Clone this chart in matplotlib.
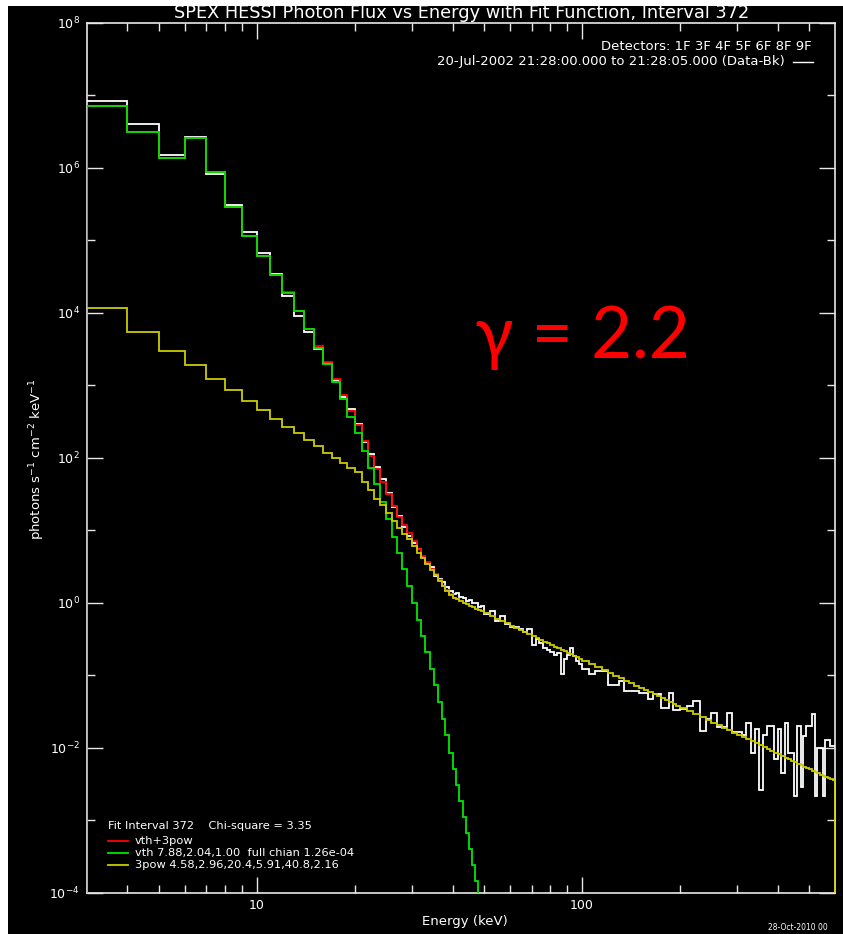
import numpy as np
import matplotlib.pyplot as plt
from matplotlib.lines import Line2D
from matplotlib.patches import Rectangle

W, H = 843, 934

# energy bin edges (keV): 1 keV to 50, then wider bins
energy_edges = (list(range(3, 50)) + list(range(50, 100, 2))
                + list(range(100, 200, 5)) + list(range(200, 601, 10)))

# log10 of photon flux per bin
data_log = [
    6.93, 6.61, 6.18, 6.43, 5.92, 5.49, 5.11, 4.83, 4.54, 4.23,
    3.96, 3.74, 3.50, 3.31, 3.07, 2.84, 2.67, 2.47, 2.22, 2.05,
    1.87, 1.70, 1.52, 1.32, 1.19, 1.04, 0.92, 0.82, 0.74, 0.63,
    0.55, 0.49, 0.37, 0.33, 0.29, 0.22, 0.16, 0.12, 0.13, 0.08,
    0.06, 0.02, 0.04, -0.01, 0.00, -0.06, -0.05,
    # 50-100 keV
    -0.15, -0.12, -0.25, -0.19, -0.30, -0.34, -0.33, -0.37, -0.40, -0.36,
    -0.58, -0.50, -0.55, -0.62, -0.66, -0.68, -0.72, -0.70, -0.99, -0.78,
    -0.72, -0.62, -0.73, -0.80, -0.84,
    # 100-200 keV
    -0.92, -0.98, -0.94, -0.94, -1.13, -1.13, -1.08, -1.22, -1.22, -1.22,
    -1.24, -1.24, -1.33, -1.26, -1.26, -1.45, -1.45, -1.24, -1.48, -1.48,
    # 200-600 keV
    -1.47, -1.43, -1.36, -1.77, -1.60, -1.52, -1.72, -1.72, -1.52, -1.79,
    -1.79, -1.82, -1.66, -2.07, -1.75, -2.58, -1.82, -1.70, -1.70, -2.16,
    -1.75, -2.35, -1.66, -2.07, -2.07, -2.67, -1.70, -2.55, -1.84, -1.70,
    -1.70, -1.54, -2.67, -2.00, -2.00, -2.67, -1.89, -1.89, -1.98, -1.98,
]

# vth+3pow total model, 3-41 keV (above that it sits under the 3pow line)
total_log = [
    6.859, 6.497, 6.133, 6.418, 5.945, 5.462, 5.062, 4.79, 4.52, 4.282,
    4.031, 3.783, 3.536, 3.322, 3.085, 2.86, 2.645, 2.446, 2.225, 2.031,
    1.845, 1.669, 1.498, 1.332, 1.186, 1.073, 0.962, 0.845, 0.739, 0.645,
    0.555, 0.469, 0.39, 0.307, 0.236, 0.172, 0.115, 0.069,
]

# thermal (vth) component, 3-50 keV
thermal_log = [
    6.859, 6.497, 6.133, 6.418, 5.945, 5.462, 5.062, 4.79, 4.519, 4.276,
    4.022, 3.77, 3.517, 3.297, 3.048, 2.804, 2.566, 2.335, 2.087, 1.857,
    1.632, 1.393, 1.149, 0.910, 0.68, 0.459, 0.229, -0.01, -0.24, -0.46,
    -0.68, -0.91, -1.14, -1.37, -1.60, -1.83, -2.07, -2.30, -2.52, -2.74,
    -2.96, -3.18, -3.40, -3.62, -3.84, -4.06, -4.28,
]

# broken power law (3pow) component
pow_log = [
    4.06, 3.73, 3.48, 3.28, 3.08, 2.93, 2.78, 2.66, 2.53, 2.43,
    2.335, 2.243, 2.16, 2.07, 2.00, 1.93, 1.86, 1.80, 1.664, 1.553,
    1.434, 1.342, 1.241, 1.126, 1.025, 0.952, 0.873, 0.781, 0.69, 0.611,
    0.528, 0.45, 0.377, 0.298, 0.23, 0.165, 0.11,
    0.067, 0.044, 0.022, 0.0, -0.022, -0.042, -0.063, -0.083, -0.102, -0.121,
    # 50-100 keV
    -0.149, -0.186, -0.220, -0.254, -0.286, -0.317, -0.348, -0.377, -0.405, -0.433,
    -0.460, -0.486, -0.511, -0.536, -0.560, -0.583, -0.606, -0.629, -0.650, -0.672,
    -0.692, -0.713, -0.733, -0.753, -0.772,
    # 100-200 keV
    -0.804, -0.849, -0.892, -0.932, -0.971, -1.009, -1.045, -1.080, -1.113, -1.146,
    -1.177, -1.207, -1.237, -1.265, -1.292, -1.319, -1.345, -1.371, -1.395, -1.420,
    # 200-600 keV
    -1.455, -1.499, -1.542, -1.583, -1.622, -1.659, -1.695, -1.730, -1.763, -1.796,
    -1.827, -1.857, -1.887, -1.915, -1.943, -1.969, -1.996, -2.021, -2.046, -2.070,
    -2.093, -2.116, -2.138, -2.160, -2.182, -2.202, -2.223, -2.243, -2.262, -2.281,
    -2.300, -2.318, -2.337, -2.354, -2.372, -2.389, -2.405, -2.422, -2.438, -2.454,
]

y_major = [1e-4, 1e-2, 1e0, 1e2, 1e4, 1e6, 1e8]
y_major_labels = ['$10^{-4}$', '$10^{-2}$', '$10^{0}$', '$10^{2}$',
                  '$10^{4}$', '$10^{6}$', '$10^{8}$']
y_minor = [1e-3, 1e-1, 1e1, 1e3, 1e5, 1e7]
x_major = [10, 100]
x_minor = [4, 5, 6, 7, 8, 9, 20, 30, 40, 50, 60, 70, 80, 90, 200, 300, 400, 500]

C_DATA = 'white'
C_TOT = '#ff0000'
C_TH = '#00e600'
C_POW = '#cccc00'


def fx(x):
    return x / W


def fy(y):
    return 1 - y / H


fig = plt.figure(figsize=(W / 100, H / 100), dpi=100, facecolor='white')
fig.add_artist(Rectangle((fx(8), 0), 1 - fx(8), fy(6), transform=fig.transFigure,
                         facecolor='black', edgecolor='none', zorder=-10))

ax = fig.add_axes([fx(86.7), fy(892.5), fx(835 - 86.7), (892.5 - 23) / H])
ax.set_facecolor('black')
ax.set_xscale('log')
ax.set_yscale('log')

edges = np.array(energy_edges, dtype=float)
ax.stairs(10 ** np.array(data_log), edges, color=C_DATA, lw=1.3,
          baseline=None, zorder=3)
ax.stairs(10 ** np.array(total_log), edges[:len(total_log) + 1], color=C_TOT,
          lw=1.3, baseline=None, zorder=4)
ax.stairs(10 ** np.array(thermal_log), edges[:len(thermal_log) + 1], color=C_TH,
          lw=1.3, baseline=1e-6, zorder=5)
ax.stairs(10 ** np.array(pow_log), edges, color=C_POW, lw=1.3,
          baseline=1e-6, zorder=6)

ax.set_xlim(3, 600)
ax.set_ylim(1e-4, 1e8)

ax.set_yticks(y_major, labels=y_major_labels)
ax.set_yticks(y_minor, minor=True)
ax.set_xticks(x_major, labels=[str(v) for v in x_major])
ax.set_xticks(x_minor, minor=True)
ax.tick_params(which='both', direction='in', top=True, right=True,
               colors='#e8e8e8', labelcolor='white', width=1.0, labelsize=9)
ax.tick_params(which='major', length=11.5, pad=5)
ax.tick_params(which='minor', length=6, labelbottom=False, labelleft=False)
for s in ax.spines.values():
    s.set_color('#e8e8e8')
    s.set_linewidth(1.2)

txt = dict(color='white', family='DejaVu Sans')
fig.text(fx(462), fy(13), 'SPEX HESSI Photon Flux vs Energy with Fit Function, Interval 372',
         ha='center', va='center', fontsize=12.8, **txt)
fig.text(fx(465), fy(921), 'Energy (keV)', ha='center', va='center', fontsize=9.5, **txt)
fig.text(fx(37), fy(459), 'photons s$^{-1}$ cm$^{-2}$ keV$^{-1}$', rotation=90,
         ha='center', va='center', fontsize=9.5, **txt)

fig.text(fx(812), fy(47), 'Detectors: 1F 3F 4F 5F 6F 8F 9F',
         ha='right', va='center', fontsize=9.5, **txt)
fig.text(fx(785), fy(62), '20-Jul-2002 21:28:00.000 to 21:28:05.000 (Data-Bk)',
         ha='right', va='center', fontsize=9.5, **txt)
fig.add_artist(Line2D([fx(793), fx(813)], [fy(62), fy(62)], color='white', lw=1.0))

fig.text(fx(108), fy(826), 'Fit Interval 372    Chi-square = 3.35',
         ha='left', va='center', fontsize=8.2, **txt)
legend_rows = [
    (841, C_TOT, 'vth+3pow'),
    (853, C_TH, 'vth 7.88,2.04,1.00  full chian 1.26e-04'),
    (865, C_POW, '3pow 4.58,2.96,20.4,5.91,40.8,2.16'),
]
for yy, col, label in legend_rows:
    fig.add_artist(Line2D([fx(108), fx(128)], [fy(yy), fy(yy)], color=col, lw=1.3))
    fig.text(fx(135), fy(yy), label, ha='left', va='center', fontsize=8.2, **txt)

fig.text(fx(768), fy(928), '28-Oct-2010 00', ha='left', va='center', fontsize=5.5, **txt)

fig.text(fx(475), fy(358), 'γ = 2.2', color='#ff0000', fontsize=51,
         family='Lato', ha='left', va='baseline')

fig.savefig('out.png', dpi=100, facecolor=fig.get_facecolor())
